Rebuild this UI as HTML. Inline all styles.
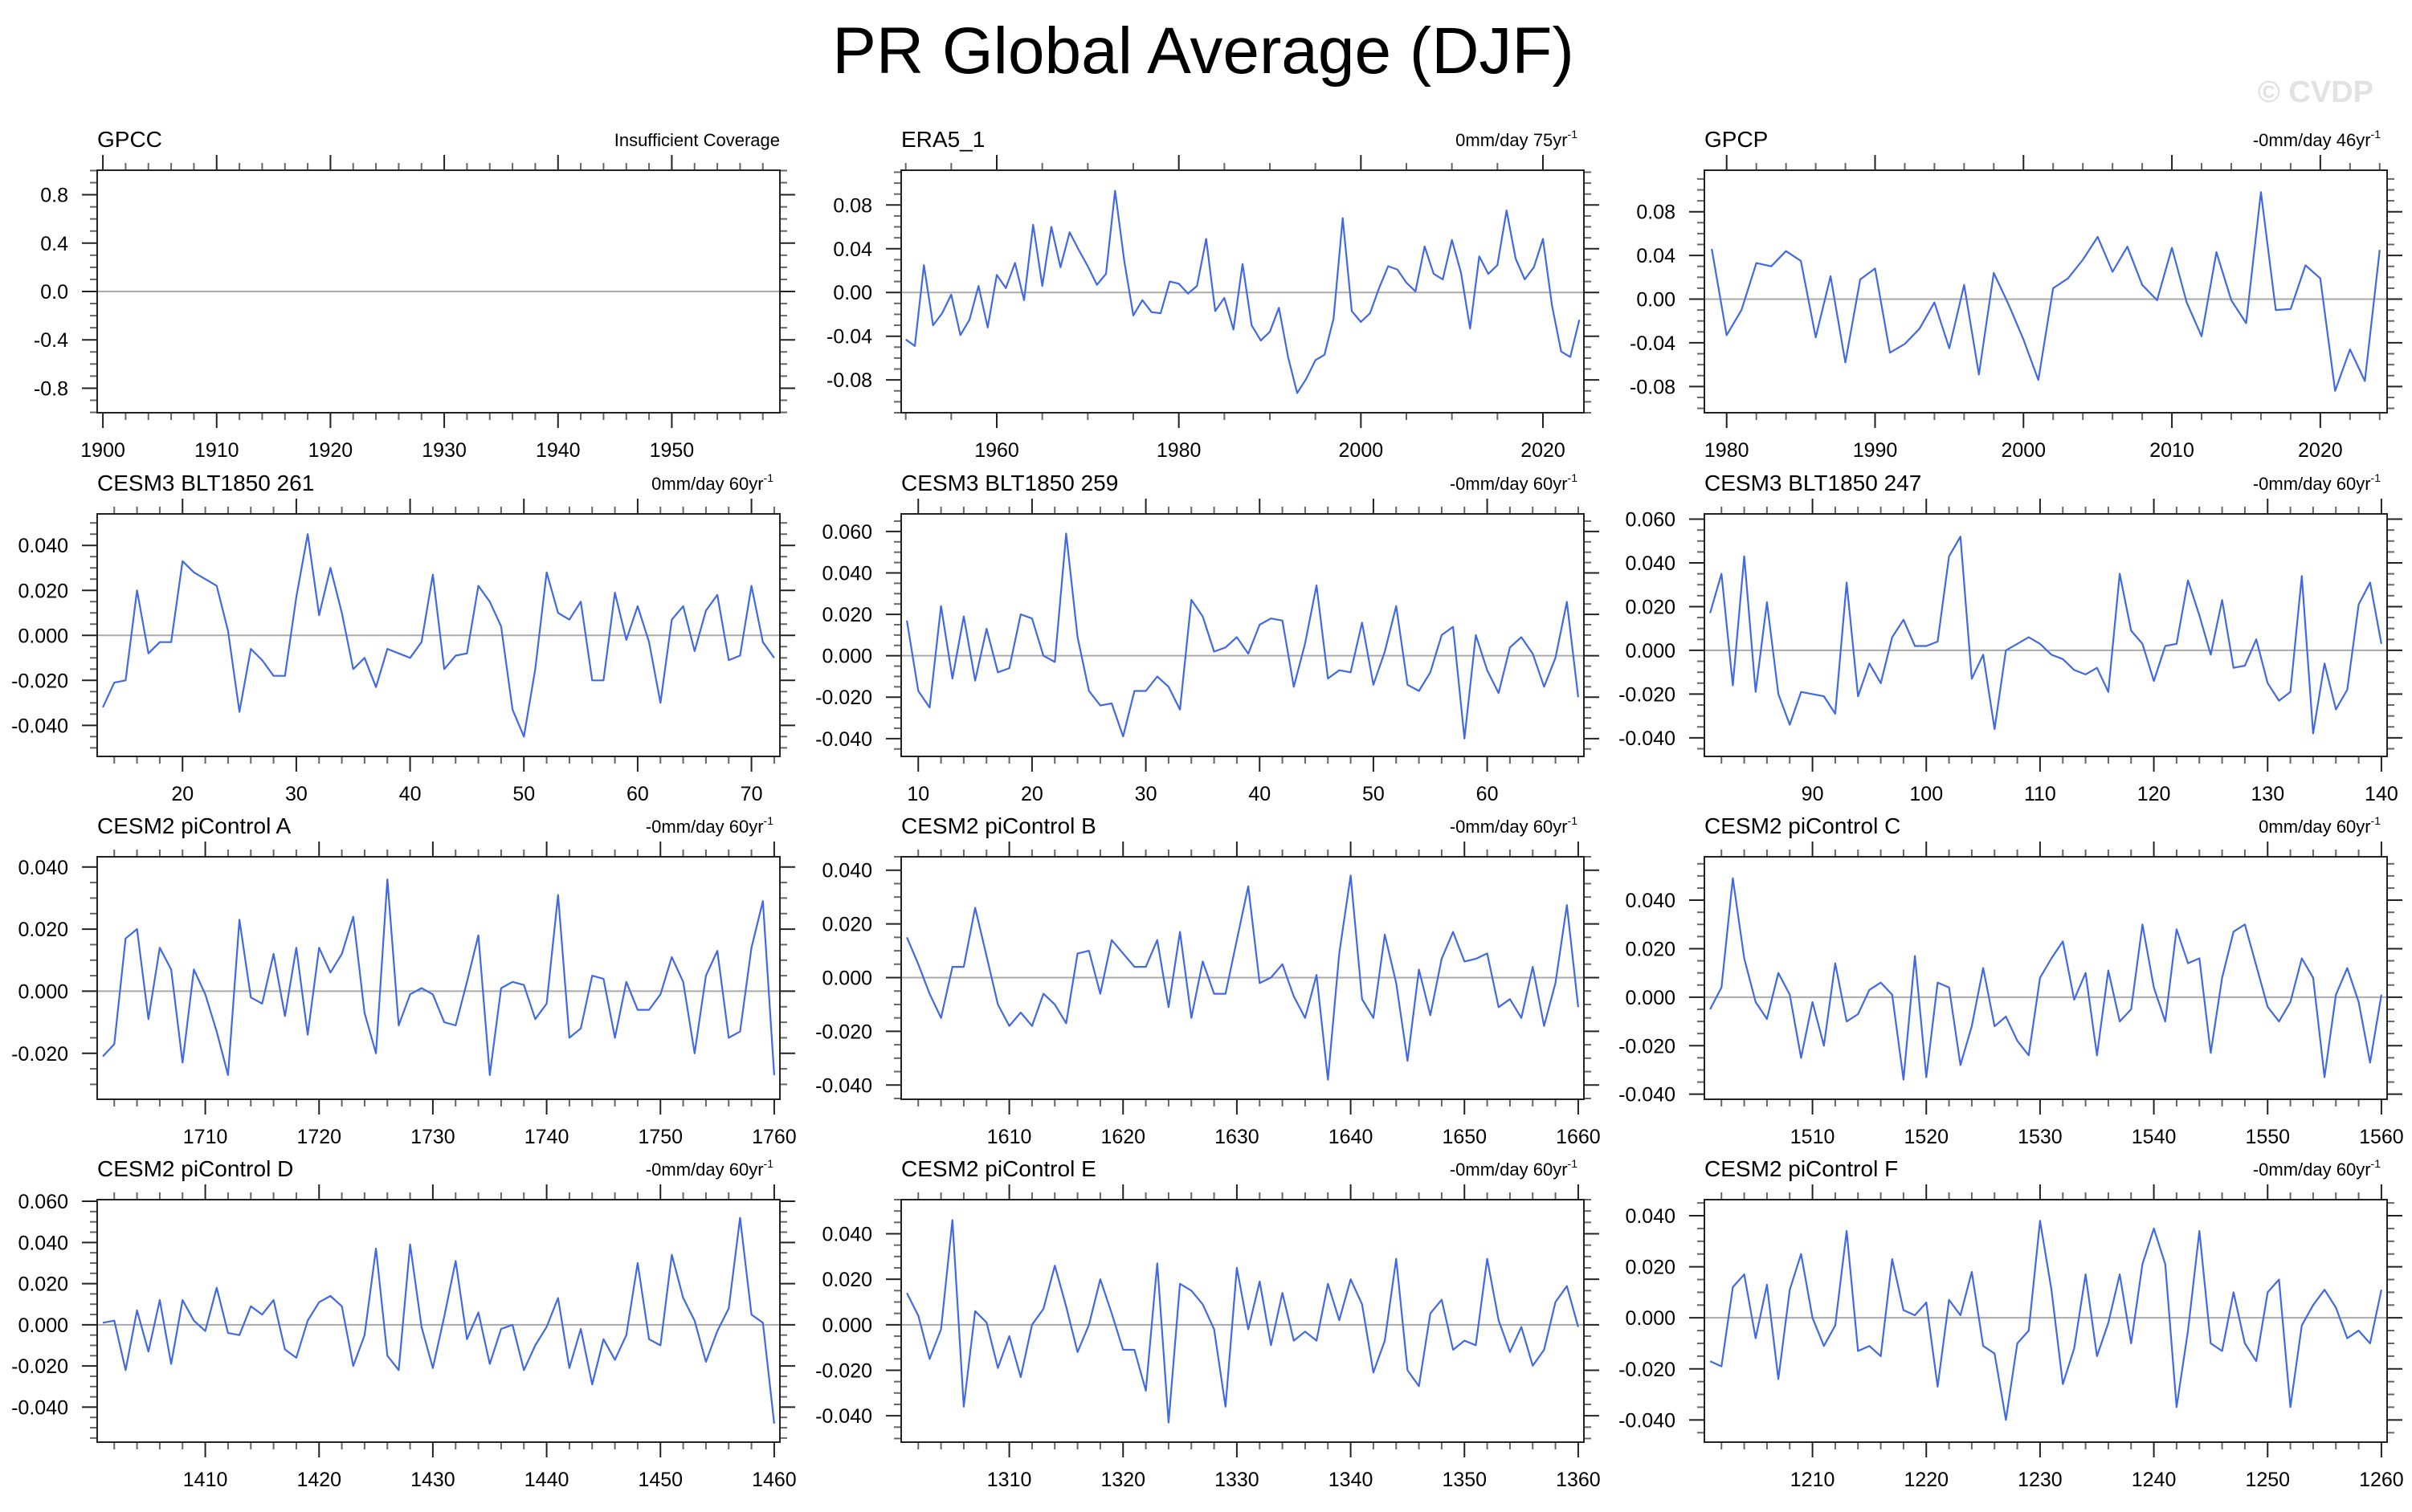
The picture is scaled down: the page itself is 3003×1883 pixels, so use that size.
<!DOCTYPE html>
<html><head><meta charset="utf-8">
<style>
html,body{margin:0;padding:0;background:#fff;}
svg{display:block;font-family:"Liberation Sans",Arial,sans-serif;}
</style></head>
<body>
<svg id="fig" width="3003" height="1883" viewBox="0 0 3003 1883" xmlns="http://www.w3.org/2000/svg">
<rect width="3003" height="1883" fill="#fff"/>
<text x="1498" y="91" font-size="82" text-anchor="middle" fill="#000">PR Global Average (DJF)</text>
<text x="2955" y="127" font-size="38" font-weight="bold" text-anchor="end" fill="#e2e2e2">© CVDP</text>
</svg>
<script>
// ---- data arrays ----
const titles = ["GPCC","ERA5_1","GPCP","CESM3 BLT1850 261","CESM3 BLT1850 259","CESM3 BLT1850 247","CESM2 piControl A","CESM2 piControl B","CESM2 piControl C","CESM2 piControl D","CESM2 piControl E","CESM2 piControl F"];
const subtitles = ["Insufficient Coverage","0mm/day 75yr","-0mm/day 46yr","0mm/day 60yr","-0mm/day 60yr","-0mm/day 60yr","-0mm/day 60yr","-0mm/day 60yr","0mm/day 60yr","-0mm/day 60yr","-0mm/day 60yr","-0mm/day 60yr"];
const startYears = [1900,1950,1979,13,9,81,1701,1601,1501,1401,1301,1201];
const nYears = [60,75,46,60,60,60,60,60,60,60,60,60];
const yMins = [-1.003,-0.110,-0.104,-0.0538,-0.0486,-0.0485,-0.0348,-0.0453,-0.0421,-0.057,-0.0516,-0.0487];
const yMaxs = [1.003,0.1118,0.118,0.054,0.0685,0.0624,0.0433,0.045,0.0579,0.0608,0.055,0.0463];
const yMajor = [0.4,0.04,0.04,0.02,0.02,0.02,0.02,0.02,0.02,0.02,0.02,0.02];
const yMinor = [0.1,0.01,0.01,0.005,0.005,0.005,0.005,0.005,0.005,0.005,0.005,0.005];
const yDecimals = [1,2,2,3,3,3,3,3,3,3,3,3];
const xMajor = [10,20,10,10,10,10,10,10,10,10,10,10];
const xMinor = [2,5,2,2,2,2,2,2,2,2,2,2];

const seriesGPCC = [];
const seriesERA5 = [-0.043,-0.049,0.025,-0.030,-0.019,-0.002,-0.039,-0.025,0.006,-0.032,
0.016,0.004,0.027,-0.007,0.062,0.006,0.060,0.023,0.055,0.039,
0.024,0.007,0.017,0.093,0.029,-0.021,-0.007,-0.018,-0.019,0.010,
0.008,-0.001,0.006,0.049,-0.017,-0.005,-0.034,0.026,-0.030,-0.044,
-0.036,-0.014,-0.059,-0.092,-0.079,-0.062,-0.057,-0.024,0.068,-0.017,
-0.027,-0.019,0.004,0.024,0.021,0.009,0.001,0.042,0.017,0.012,
0.048,0.018,-0.033,0.033,0.017,0.025,0.075,0.031,0.012,0.023,
0.049,-0.012,-0.054,-0.059,-0.025];
const seriesGPCP = [0.046,-0.033,-0.010,0.033,0.030,0.044,0.035,-0.035,0.021,-0.058,
0.018,0.028,-0.049,-0.041,-0.027,-0.003,-0.045,0.013,-0.069,0.024,
-0.005,-0.037,-0.074,0.010,0.019,0.036,0.057,0.025,0.048,0.013,
-0.001,0.047,-0.003,-0.034,0.043,-0.001,-0.022,0.098,-0.010,-0.009,
0.031,0.019,-0.084,-0.046,-0.075,0.045];
const series261 = [-0.032,-0.021,-0.020,0.020,-0.008,-0.003,-0.003,0.033,0.028,0.025,
0.022,0.002,-0.034,-0.006,-0.011,-0.018,-0.018,0.017,0.045,0.009,
0.030,0.010,-0.015,-0.010,-0.023,-0.006,-0.008,-0.010,-0.003,0.027,
-0.015,-0.009,-0.008,0.022,0.015,0.004,-0.033,-0.045,-0.015,0.028,
0.010,0.007,0.015,-0.020,-0.020,0.019,-0.002,0.013,-0.003,-0.030,
0.007,0.013,-0.007,0.011,0.018,-0.011,-0.009,0.022,-0.003,-0.010];
const series259 = [0.017,-0.017,-0.025,0.024,-0.011,0.019,-0.012,0.013,-0.008,-0.006,
0.020,0.018,0.000,-0.003,0.059,0.009,-0.017,-0.024,-0.023,-0.039,
-0.017,-0.017,-0.010,-0.015,-0.026,0.027,0.019,0.002,0.004,0.009,
0.001,0.015,0.018,0.017,-0.015,0.006,0.034,-0.011,-0.007,-0.008,
0.016,-0.014,0.002,0.024,-0.014,-0.017,-0.008,0.010,0.014,-0.040,
0.010,-0.007,-0.018,0.004,0.009,0.001,-0.015,-0.001,0.026,-0.020];
const series247 = [0.017,0.035,-0.016,0.043,-0.019,0.022,-0.020,-0.034,-0.019,-0.020,
-0.021,-0.029,0.031,-0.021,-0.006,-0.015,0.006,0.014,0.002,0.002,
0.004,0.043,0.052,-0.013,-0.002,-0.036,0.000,0.003,0.006,0.003,
-0.002,-0.004,-0.009,-0.011,-0.008,-0.019,0.035,0.009,0.003,-0.014,
0.002,0.003,0.032,0.016,-0.002,0.023,-0.008,-0.007,0.005,-0.015,
-0.023,-0.019,0.034,-0.038,-0.006,-0.027,-0.018,0.021,0.031,0.003];
const seriesA = [-0.021,-0.017,0.017,0.020,-0.009,0.014,0.007,-0.023,0.007,-0.001,
-0.013,-0.027,0.023,-0.002,-0.004,0.012,-0.008,0.014,-0.014,0.014,
0.006,0.012,0.024,-0.007,-0.020,0.036,-0.011,-0.001,0.001,-0.001,
-0.010,-0.011,0.003,0.018,-0.027,0.001,0.003,0.002,-0.009,-0.004,
0.031,-0.015,-0.012,0.005,0.004,-0.015,0.003,-0.006,-0.006,-0.001,
0.011,0.003,-0.020,0.005,0.013,-0.015,-0.013,0.014,0.029,-0.027];
const seriesB = [0.015,0.005,-0.006,-0.015,0.004,0.004,0.026,0.008,-0.010,-0.018,
-0.013,-0.018,-0.006,-0.010,-0.017,0.009,0.010,-0.006,0.014,0.009,
0.004,0.004,0.014,-0.011,0.017,-0.015,0.006,-0.006,-0.006,0.014,
0.034,-0.002,0.000,0.005,-0.007,-0.015,0.001,-0.038,0.009,0.038,
-0.008,-0.015,0.016,-0.002,-0.031,0.003,-0.014,0.007,0.017,0.006,
0.007,0.009,-0.011,-0.008,-0.015,0.004,-0.018,-0.002,0.027,-0.011];
const seriesC = [-0.005,0.004,0.049,0.016,-0.002,-0.009,0.010,0.001,-0.025,-0.002,
-0.020,0.014,-0.010,-0.007,0.003,0.006,0.001,-0.034,0.017,-0.033,
0.006,0.004,-0.028,-0.012,0.012,-0.012,-0.008,-0.018,-0.024,0.008,
0.016,0.023,-0.001,0.010,-0.024,0.011,-0.010,-0.005,0.030,0.004,
-0.010,0.028,0.014,0.016,-0.023,0.008,0.027,0.030,0.013,-0.004,
-0.010,-0.002,0.016,0.008,-0.033,0.001,0.012,-0.002,-0.027,0.001];
const seriesD = [0.001,0.002,-0.022,0.007,-0.013,0.012,-0.019,0.012,0.002,-0.003,
0.018,-0.004,-0.005,0.009,0.005,0.012,-0.012,-0.016,0.002,0.011,
0.014,0.009,-0.020,-0.005,0.037,-0.015,-0.022,0.039,-0.001,-0.021,
0.004,0.031,-0.007,0.006,-0.019,-0.002,0.000,-0.022,-0.010,-0.001,
0.013,-0.021,-0.002,-0.029,-0.007,-0.017,-0.005,0.030,-0.007,-0.010,
0.034,0.013,0.002,-0.018,-0.003,0.008,0.052,0.005,0.001,-0.048];
const seriesE = [0.014,0.004,-0.015,-0.002,0.046,-0.036,0.006,0.001,-0.019,-0.005,
-0.023,0.000,0.007,0.026,0.008,-0.012,0.000,0.020,0.005,-0.011,
-0.011,-0.029,0.027,-0.043,0.018,0.015,0.009,-0.002,-0.036,0.025,
-0.002,0.019,-0.009,0.014,-0.007,-0.003,-0.007,0.018,0.002,0.020,
0.009,-0.021,-0.007,0.029,-0.020,-0.027,0.005,0.011,-0.011,-0.007,
-0.009,0.029,0.002,-0.012,-0.001,-0.018,-0.011,0.010,0.017,-0.001];
const seriesF = [-0.017,-0.019,0.012,0.017,-0.008,0.013,-0.024,0.011,0.025,0.000,
-0.011,-0.003,0.034,-0.013,-0.011,-0.015,0.023,0.003,0.001,0.006,
-0.027,0.007,0.001,0.018,-0.011,-0.014,-0.040,-0.010,-0.005,0.038,
0.011,-0.026,-0.012,0.017,-0.015,-0.002,0.017,-0.010,0.021,0.035,
0.021,-0.035,-0.005,0.034,-0.010,-0.013,0.010,-0.010,-0.017,0.010,
0.015,-0.035,-0.003,0.005,0.011,0.004,-0.008,-0.005,-0.010,0.011];
const allSeries = [seriesGPCC,seriesERA5,seriesGPCP,series261,series259,series247,seriesA,seriesB,seriesC,seriesD,seriesE,seriesF];

// ---- layout ----
const colX = [121,1122,2122];
const rowY = [212,640,1067,1494];
const BW = 850, BH = 302;
const NS = "http://www.w3.org/2000/svg";
const svg = document.getElementById("fig");
function mk(tag, attrs, parent){
  const e = document.createElementNS(NS, tag);
  for (const k in attrs) e.setAttribute(k, attrs[k]);
  (parent||svg).appendChild(e);
  return e;
}
const slugs = ["gpcc","era5","gpcp","blt261","blt259","blt247","picontrol-a","picontrol-b","picontrol-c","picontrol-d","picontrol-e","picontrol-f"];

for (let p = 0; p < 12; p++){
  const L = colX[p%3], T = rowY[Math.floor(p/3)], R = L+BW, B = T+BH;
  const x0 = startYears[p]-0.5, x1 = startYears[p]+nYears[p]-0.5;
  const y0 = yMins[p], y1 = yMaxs[p];
  const sx = v => L + (v-x0)/(x1-x0)*BW;
  const sy = v => B - (v-y0)/(y1-y0)*BH;
  const g = mk("g", {});
  
  

  const t = mk("text", {x:L, y:T-29, "font-size":28, fill:"#000"}, g);
  t.textContent = titles[p];
  
  

  const st = mk("text", {x:R-8, y:T-30, "font-size":22, "text-anchor":"end", fill:"#000"}, g);
  
  
  if (p === 0){ st.setAttribute("x", R); st.textContent = subtitles[p]; }
  else {
    const a = mk("tspan", {}, st); a.textContent = subtitles[p];
    const b = mk("tspan", {"font-size":14, dy:-10}, st); b.textContent = "-1";
  }

  const z = mk("line", {x1:L, x2:R, y1:sy(0), y2:sy(0), stroke:"#aaaaaa", "stroke-width":2}, g);
  
  

  const nMin = Math.ceil(y0/yMinor[p]-1e-6), nMax = Math.floor(y1/yMinor[p]+1e-6);
  const ratio = Math.round(yMajor[p]/yMinor[p]);
  for (let k = nMin; k <= nMax; k++){
    const v = k*yMinor[p], yy = sy(v), major = (k % ratio === 0);
    const len = major ? 19 : 9;
    mk("line", {x1:L-len, x2:L, y1:yy, y2:yy, stroke: major?"#222":"#666", "stroke-width":2}, g);
    mk("line", {x1:R, x2:R+len, y1:yy, y2:yy, stroke: major?"#222":"#666", "stroke-width":2}, g);
    if (major){
      const lb = mk("text", {x:L-36, y:yy+9, "font-size":25, "text-anchor":"end", fill:"#000"}, g);
      lb.textContent = v.toFixed(yDecimals[p]).replace(/^-0\.0+$|^-0$/, m=>m.slice(1));
      
      
    }
  }
  const mMin = Math.ceil(x0/xMinor[p]), mMax = Math.floor(x1/xMinor[p]);
  for (let k = mMin; k <= mMax; k++){
    const v = k*xMinor[p], xx = sx(v), major = (v % xMajor[p] === 0);
    const len = major ? 19 : 9;
    mk("line", {x1:xx, x2:xx, y1:T-len, y2:T, stroke: major?"#222":"#666", "stroke-width":2}, g);
    mk("line", {x1:xx, x2:xx, y1:B, y2:B+len, stroke: major?"#222":"#666", "stroke-width":2}, g);
    if (major){
      const lb = mk("text", {x:xx, y:B+55, "font-size":25, "text-anchor":"middle", fill:"#000"}, g);
      lb.textContent = String(v);
      
      
    }
  }
  const data = allSeries[p];
  if (data.length){
    const pts = data.map((v,i)=> sx(startYears[p]+i).toFixed(1)+","+sy(v).toFixed(1)).join(" ");
    const pl = mk("polyline", {points:pts, fill:"none", stroke:"#4169e1", "stroke-width":2.2, "stroke-linejoin":"round"}, g);
    
    
  }
  const bx = mk("rect", {x:L, y:T, width:BW, height:BH, fill:"none", stroke:"#222", "stroke-width":2}, g);
  
  
}
</script>
</body></html>
